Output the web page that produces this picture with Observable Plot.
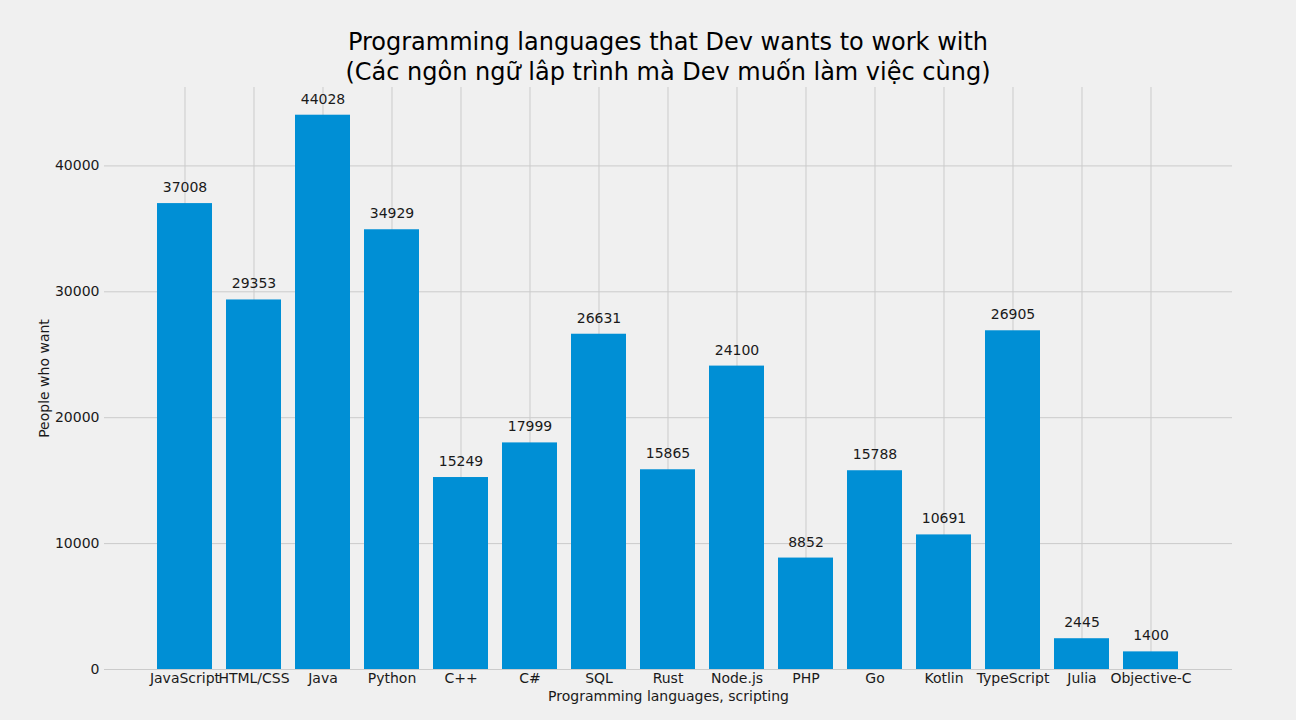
<!DOCTYPE html>
<html>
<head>
<meta charset="utf-8">
<script src="https://cdn.jsdelivr.net/npm/d3@7"></script>
<script src="https://cdn.jsdelivr.net/npm/@observablehq/plot@0.6"></script>
<style>
  html, body { margin: 0; padding: 0; background: #f0f0f0; }
  body { width: 1296px; height: 720px; overflow: hidden; font-family: "DejaVu Sans", sans-serif; }
  #title { margin-left: 104px; width: 1128px; height: 80px; box-sizing: border-box; padding-top: 27px;
           text-align: center; font-size: 24px; line-height: 30px; color: #000; white-space: nowrap; }
  #chart svg { display: block; overflow: visible; }
</style>
</head>
<body>
<div id="title">Programming languages that Dev wants to work with<br>(Các ngôn ngữ lâp trình mà Dev muốn làm việc cùng)</div>
<div id="chart"></div>
<script>
const languages = ["JavaScript", "HTML/CSS", "Java", "Python", "C++", "C#", "SQL", "Rust", "Node.js", "PHP", "Go", "Kotlin", "TypeScript", "Julia", "Objective-C"];
const peopleWhoWant = [37008, 29353, 44028, 34929, 15249, 17999, 26631, 15865, 24100, 8852, 15788, 10691, 26905, 2445, 1400];
const yTicks = [0, 10000, 20000, 30000, 40000];
const xLabel = "Programming languages, scripting";
const yLabel = "People who want";

const data = languages.map((lang, i) => ({lang, value: peopleWhoWant[i]}));

const chart = Plot.plot({
  width: 1296,
  height: 640,
  marginTop: 7,
  marginBottom: 51,
  marginLeft: 104,
  marginRight: 64,
  style: {background: "transparent", fontFamily: "DejaVu Sans, sans-serif", fontSize: "14px", color: "#1a1a1a"},
  x: {domain: languages, paddingInner: 0.2, paddingOuter: 0.74, label: null},
  y: {domain: [0, 46229], label: null},
  marks: [
    Plot.ruleY(yTicks, {stroke: "#cbcbcb", strokeWidth: 1}),
    Plot.ruleX(languages, {stroke: "#cbcbcb", strokeWidth: 1}),
    Plot.barY(data, {x: "lang", y: "value", fill: "#008fd5"}),
    Plot.text(data, {x: "lang", y: "value", text: d => String(d.value), dy: -16, fontSize: 14, fill: "#1a1a1a"}),
    Plot.axisX({tickSize: 0, tickPadding: 4, fontSize: 14, label: null, color: "#1a1a1a"}),
    Plot.axisY({ticks: yTicks, tickSize: 0, tickPadding: 5, tickFormat: d => String(d), fontSize: 14, label: null, color: "#1a1a1a"}),
    Plot.text([xLabel], {frameAnchor: "bottom", dy: 31, fontSize: 14, fill: "#1a1a1a"}),
    Plot.text([yLabel], {frameAnchor: "left", rotate: -90, dx: -60, textAnchor: "middle", fontSize: 14, fill: "#1a1a1a"})
  ]
});
document.getElementById("chart").appendChild(chart);
</script>
</body>
</html>
